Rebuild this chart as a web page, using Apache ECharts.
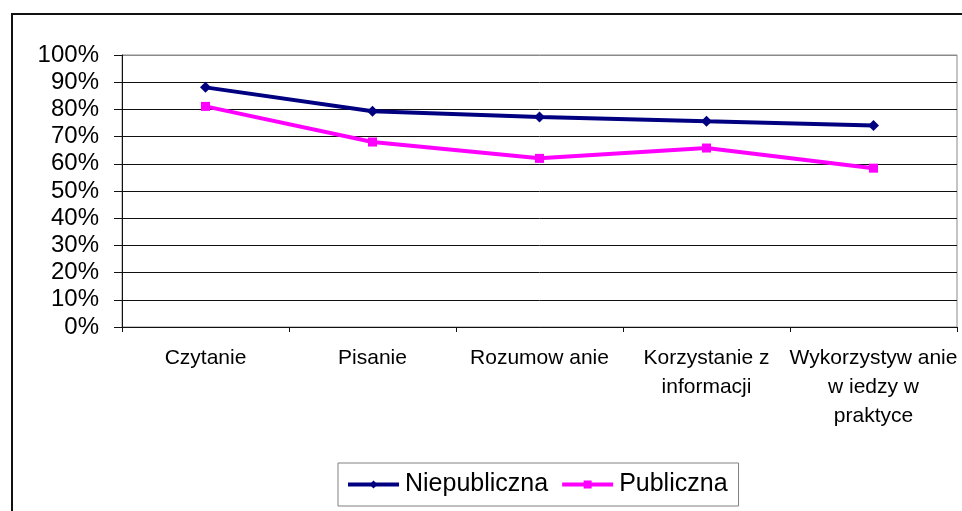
<!DOCTYPE html>
<html lang="pl">
<head>
    <meta charset="UTF-8">
    <script type="text/javascript" src="https://cdn.jsdelivr.net/npm/echarts@6/dist/echarts.min.js"></script>
    <style>
        html, body { margin: 0; padding: 0; background: #fff; }
        #main { width: 962px; height: 511px; }
    </style>
</head>
<body>
    <div id="main"></div>
    <script type="text/javascript">
        // kategorie (osie X)
        var kategorie = ['Czytanie', 'Pisanie', 'Rozumow anie', 'Korzystanie z\ninformacji', 'Wykorzystyw anie\nw iedzy w\npraktyce'];
        // wyniki w procentach
        var niepubliczna = [88.1, 79.3, 77.2, 75.6, 74.1];
        var publiczna = [81.1, 68.0, 62.0, 65.8, 58.4];
        var nazwySerii = ['Niepubliczna', 'Publiczna'];

        var font = '"Liberation Sans", Arial, sans-serif';
        var myChart = echarts.init(document.getElementById('main'));

        // kolor linii siatki - ostatnia (100%) szara jak ramka wykresu
        var kolorySiatki = [];
        for (var i = 0; i <= 10; i++) {
            kolorySiatki.push(i == 10 ? '#8a8a8a' : '#111');
        }

        var option = {
            backgroundColor: '#fff',
            animation: false,
            graphic: [
                {
                    type: 'rect',
                    shape: { x: 12, y: 14, width: 1000, height: 600 },
                    style: { fill: 'none', stroke: '#111', lineWidth: 2 },
                    z: 100
                }
            ],
            grid: {
                left: 122,
                top: 55,
                right: 5,
                bottom: 184,
                show: true,
                borderColor: '#8a8a8a',
                borderWidth: 1
            },
            legend: {
                data: nazwySerii,
                left: 338,
                top: 463,
                itemWidth: 51,
                itemHeight: 10,
                itemGap: 12,
                padding: [9, 11, 9, 8],
                borderColor: '#808080',
                borderWidth: 1,
                lineStyle: { width: 4 },
                textStyle: { fontFamily: font, fontSize: 25, color: '#000', padding: [0, 0, 0, 1] }
            },
            xAxis: {
                type: 'category',
                data: kategorie,
                boundaryGap: true,
                axisLine: { lineStyle: { color: '#111', width: 1 } },
                axisTick: { show: true, length: 5, lineStyle: { color: '#111' } },
                axisLabel: {
                    interval: 0,
                    margin: 17,
                    fontFamily: font,
                    fontSize: 21,
                    lineHeight: 29,
                    color: '#000'
                }
            },
            yAxis: {
                type: 'value',
                min: 0,
                max: 100,
                interval: 10,
                axisLine: { show: true, lineStyle: { color: '#111', width: 1 } },
                axisTick: { show: true, length: 8, lineStyle: { color: '#111' } },
                axisLabel: {
                    margin: 23,
                    fontFamily: font,
                    fontSize: 24,
                    color: '#000',
                    formatter: '{value}%'
                },
                splitLine: { show: true, lineStyle: { color: kolorySiatki, width: 1 } }
            },
            series: [
                {
                    name: nazwySerii[0],
                    type: 'line',
                    data: niepubliczna,
                    symbol: 'diamond',
                    symbolSize: 11,
                    color: '#000080',
                    lineStyle: { width: 4, color: '#000080' },
                    itemStyle: { color: '#000080' }
                },
                {
                    name: nazwySerii[1],
                    type: 'line',
                    data: publiczna,
                    symbol: 'rect',
                    symbolSize: 9,
                    color: '#ff00ff',
                    lineStyle: { width: 4, color: '#ff00ff' },
                    itemStyle: { color: '#ff00ff' }
                }
            ]
        };
        myChart.setOption(option);
    </script>
</body>
</html>
